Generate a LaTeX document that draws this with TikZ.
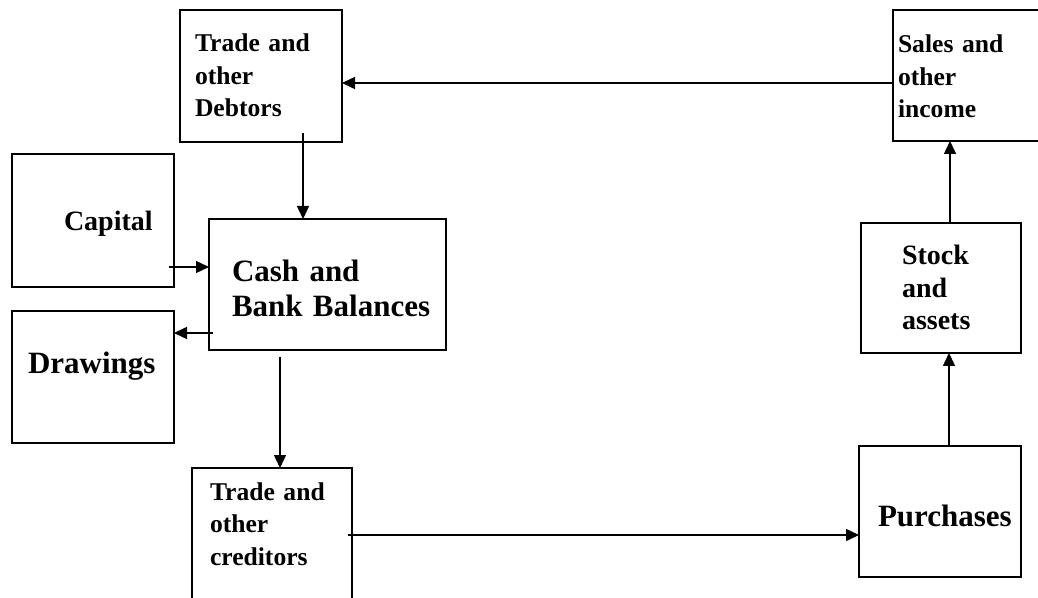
\documentclass[tikz,border=0pt]{standalone}
\usepackage{fontspec}
\setmainfont{Liberation Serif}
\usetikzlibrary{arrows.meta,calc}
\tikzset{
  box/.style={draw, line width=1.15pt, inner sep=0pt, outer sep=0pt, align=left},
  small/.style={font=\fontsize{12.8}{16.25}\selectfont\bfseries},
  mid/.style={font=\fontsize{14}{16.25}\selectfont\bfseries},
  big/.style={font=\fontsize{15.5}{17.5}\selectfont\bfseries},
  arr/.style={line width=0.75pt, -{Triangle[length=6.5pt,width=6pt]}},
}
\begin{document}
\begin{tikzpicture}[x=0.5pt,y=-0.5pt]
\useasboundingbox (0,0) rectangle (1038,598);
\clip (0,0) rectangle (1038,598);
% boxes
\node[box, small, minimum width=81pt, minimum height=66pt, text width=66pt,
      text height=9pt, text depth=33pt] (debt) at (261,76) {Trade and\\other\\Debtors};
\node[box, small, minimum width=83.5pt, minimum height=65.5pt, text width=78.5pt,
      text height=9pt, text depth=31.5pt] (sales) at (976.5,75.5) {Sales and\\other\\income};
\node[box, mid, minimum width=81pt, minimum height=66.5pt, text width=29pt,
      text height=12pt, text depth=1.5pt] (cap) at (93,220.5) {\mbox{Capital}};
\node[box, big, minimum width=118.5pt, minimum height=65.5pt, text width=95.5pt,
      text height=11pt, text depth=13.5pt] (cash) at (327.5,284.5) {\mbox{Cash and}\\\mbox{Bank Balances}};
\node[box, big, minimum width=81pt, minimum height=66pt, text width=65pt,
      text height=10pt, text depth=13pt] (draw) at (93,377) {\mbox{Drawings}};
\node[box, mid, minimum width=80pt, minimum height=65pt, text width=39pt,
      text height=9pt, text depth=32pt] (stock) at (941,288) {\mbox{Stock}\\\mbox{and}\\\mbox{assets}};
\node[box, small, minimum width=80pt, minimum height=70pt, text width=62pt,
      text height=9pt, text depth=47pt] (cred) at (272,538) {Trade and\\other\\creditors};
\node[box, big, minimum width=81pt, minimum height=65.5pt, text width=62pt,
      text height=16pt, text depth=1.5pt] (purch) at (940,511.5) {\mbox{Purchases}};
% connectors
\coordinate (s1) at ($(sales.west)+(0,7.5)$);
\draw[arr] (s1) -- (s1 -| debt.east);
\coordinate (s2) at ($(debt.south)+(42,-9)$);
\draw[arr] (s2) -- (s2 |- cash.north);
\coordinate (s3) at ($(cap.east)+(-5,46.5)$);
\draw[arr] (s3) -- (s3 -| cash.west);
\coordinate (s4) at ($(cash.west)+(4,48.5)$);
\draw[arr] (s4) -- (s4 -| draw.east);
\coordinate (s5) at ($(cash.south)+(-47.5,7)$);
\draw[arr] (s5) -- (s5 |- cred.north);
\coordinate (s6) at ($(cred.east)+(-4,-3)$);
\draw[arr] (s6) -- (s6 -| purch.west);
\coordinate (s7) at ($(purch.north)+(9,0)$);
\draw[arr] (s7) -- (s7 |- stock.south);
\coordinate (s8) at ($(stock.north)+(9,0)$);
\draw[arr] (s8) -- (s8 |- sales.south);
\end{tikzpicture}
\end{document}
